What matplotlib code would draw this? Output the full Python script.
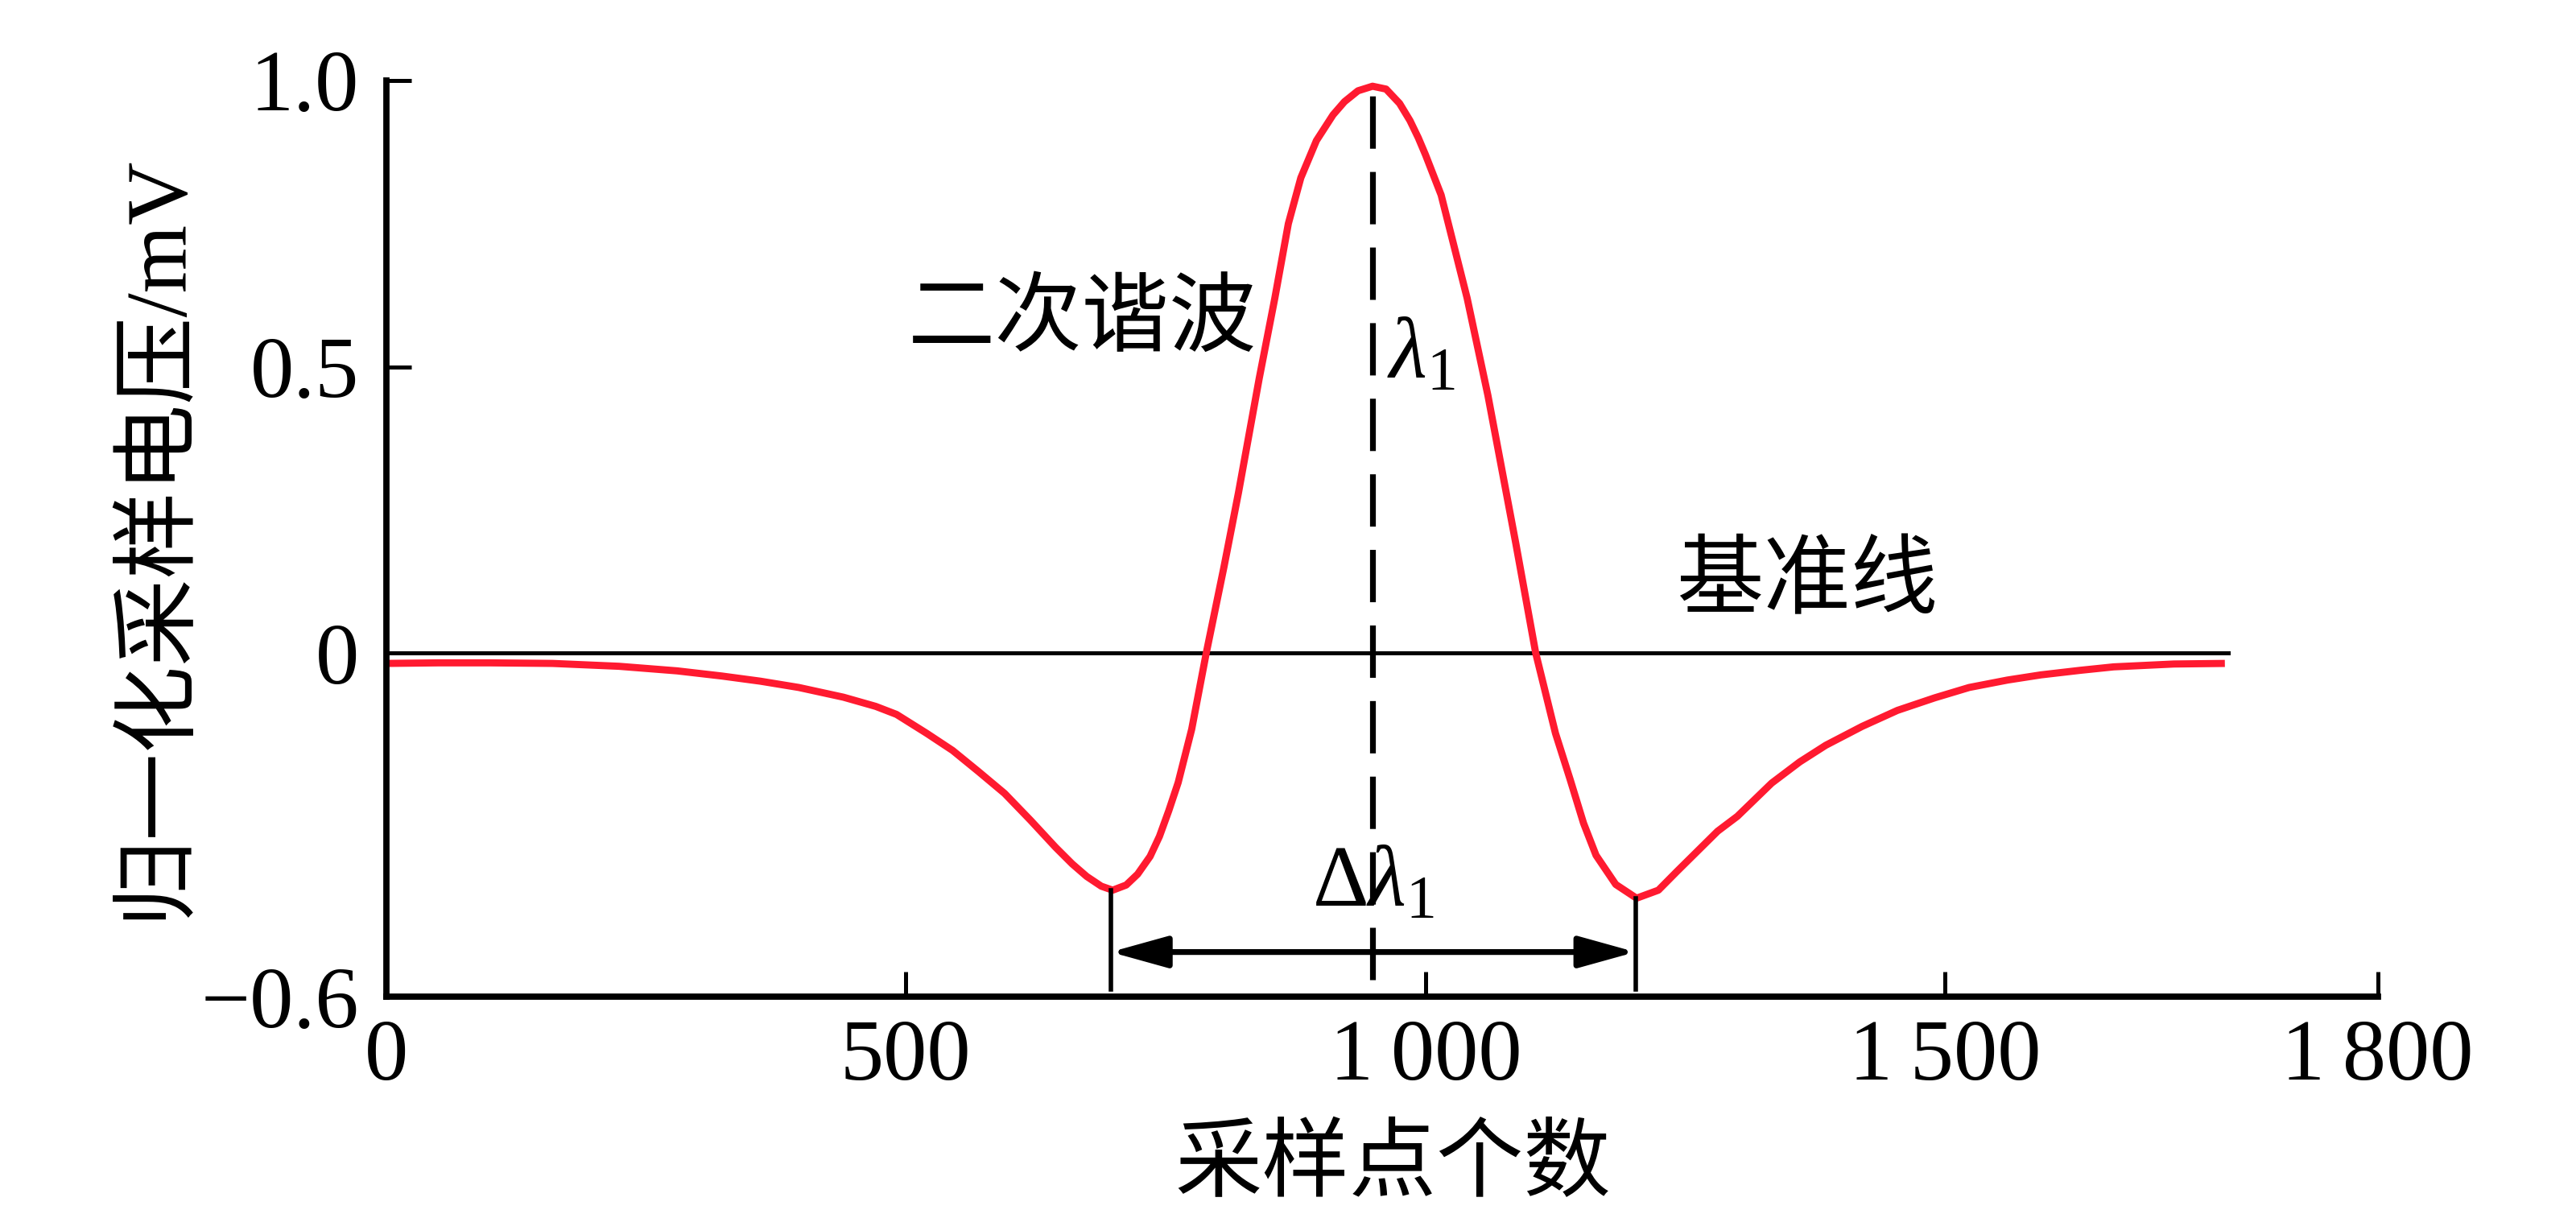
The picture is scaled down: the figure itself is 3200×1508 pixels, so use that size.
import matplotlib
matplotlib.use('Agg')
import matplotlib.pyplot as plt

plt.rcParams['font.family'] = ['Liberation Serif', 'Noto Sans CJK SC', 'DejaVu Sans']
plt.rcParams['mathtext.fontset'] = 'custom'
plt.rcParams['mathtext.rm'] = 'Liberation Serif'
plt.rcParams['mathtext.it'] = 'Liberation Serif:italic'
plt.rcParams['axes.unicode_minus'] = True

# 二次谐波曲线
x_pts = [0, 50, 100, 160, 224, 280, 323, 360, 397, 440, 471, 491, 520, 545, 570,
         595, 620, 644, 660, 674, 688, 699, 712, 723, 735, 744, 753, 762, 775, 789,
         806, 820, 840, 855, 868, 880, 895, 911, 922, 935, 949, 962, 975, 985, 993,
         1000, 1015, 1040, 1060, 1087, 1106, 1125, 1139, 1152, 1164, 1183, 1203,
         1224, 1242, 1281, 1300, 1333, 1360, 1385, 1420, 1454, 1490, 1523, 1560,
         1592, 1630, 1662, 1720, 1769]
y_pts = [-0.018, -0.017, -0.017, -0.018, -0.023, -0.031, -0.040, -0.049, -0.060,
         -0.077, -0.093, -0.107, -0.140, -0.170, -0.207, -0.245, -0.292, -0.339,
         -0.368, -0.390, -0.407, -0.414, -0.405, -0.386, -0.355, -0.320, -0.275,
         -0.226, -0.133, 0.0, 0.150, 0.280, 0.480, 0.620, 0.750, 0.830, 0.895,
         0.940, 0.963, 0.982, 0.990, 0.985, 0.960, 0.930, 0.900, 0.870, 0.800,
         0.620, 0.450, 0.190, 0.0, -0.140, -0.220, -0.297, -0.353, -0.404, -0.428,
         -0.414, -0.381, -0.311, -0.285, -0.227, -0.190, -0.161, -0.128, -0.100,
         -0.078, -0.060, -0.047, -0.038, -0.030, -0.024, -0.019, -0.018]

# 标注用的数值
baseline_end = 1772
peak_x = 949
min_left_x, min_left_y = 697, -0.414
min_right_x, min_right_y = 1202, -0.428
arrow_y = -0.522

x_ticks = [0, 500, 1000, 1500, 1916]
x_labels = ['0', '500', '1\u2009000', '1\u2009500', '1\u2009800']
y_ticks = [-0.6, 0, 0.5, 1.0]
y_labels = ['\u22120.6', '0', '0.5', '1.0']

red = '#ff1a30'

fig = plt.figure(figsize=(16, 7.54), dpi=200)
ax = fig.add_axes([0.1499, 0.179, 0.923 - 0.1499, 0.9337 - 0.179])

ax.plot([0, baseline_end], [0, 0], color='black', lw=1.8)
ax.plot(x_pts, y_pts, color=red, lw=3.2, solid_joinstyle='round',
        solid_capstyle='butt')

# 峰值虚线
ax.plot([peak_x, peak_x], [-0.570, 0.975], color='black', lw=2.6, dashes=(9, 4))

# 两个谷底竖线
ax.plot([min_left_x, min_left_x], [min_left_y, -0.587], color='black', lw=2.0)
ax.plot([min_right_x, min_right_x], [min_right_y, -0.587], color='black', lw=2.0)

ax.annotate('', xy=(min_left_x, arrow_y), xytext=(min_right_x, arrow_y),
            arrowprops=dict(arrowstyle='<|-|>,head_length=1.08,head_width=0.3',
                            mutation_scale=20, lw=2.6, color='black',
                            shrinkA=0, shrinkB=0))

ax.text(670, 0.578, '二次谐波', fontsize=39, ha='center', va='center')
ax.text(963, 0.481, r'$\mathit{\lambda}_{\mathrm{1}}$', fontsize=39, ha='left', va='baseline')
ax.text(950, -0.441, r'$\mathrm{\Delta}\mathit{\lambda}_{\mathrm{1}}$', fontsize=39,
        ha='center', va='baseline')
ax.text(1367, 0.118, '基准线', fontsize=39, ha='center', va='center')

ax.set_xlim(0, 1916)
ax.set_ylim(-0.6, 1.0)
ax.set_xticks(x_ticks)
ax.set_xticklabels(x_labels)
ax.set_yticks(y_ticks)
ax.set_yticklabels(y_labels)

for s in ['top', 'right']:
    ax.spines[s].set_visible(False)
for s in ['left', 'bottom']:
    ax.spines[s].set_linewidth(2.8)

ax.tick_params(axis='both', direction='in', length=11, width=1.8, labelsize=39)
ax.tick_params(axis='x', pad=10)
ax.tick_params(axis='y', pad=12)

fig.text(0.061, 0.558, '归一化采样电压/mV', fontsize=39, rotation=90,
         ha='center', va='center')
fig.text(0.5406, 0.038, '采样点个数', fontsize=39, ha='center', va='center')

fig.savefig('out.png', dpi=200)
